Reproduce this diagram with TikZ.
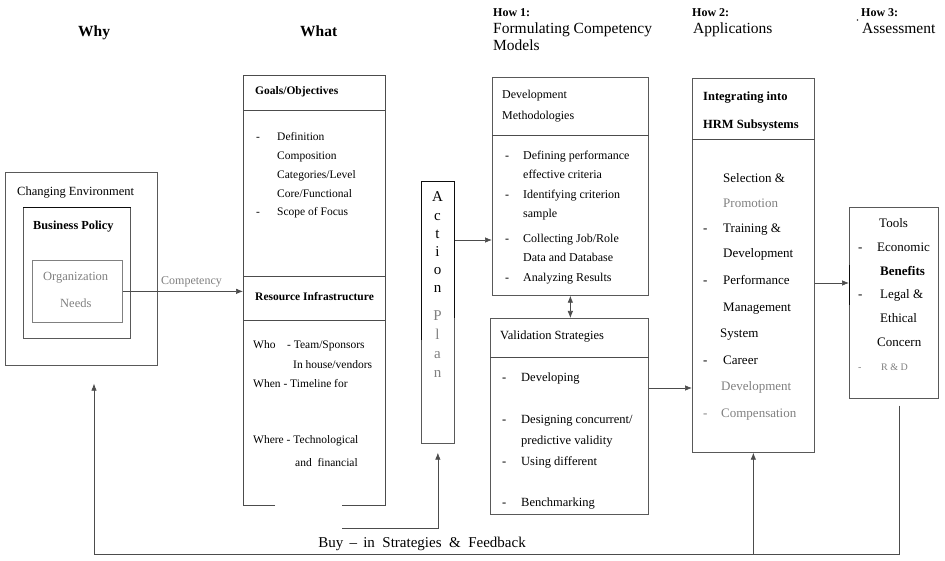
\documentclass[tikz,border=0pt]{standalone}
\usepackage{fontspec}
\setmainfont{Liberation Serif}
\usetikzlibrary{arrows.meta}
\begin{document}
\begin{tikzpicture}[x=1pt,y=-1pt,
 bx/.style={draw=black!65,line width=0.7pt,inner sep=0pt,anchor=north west},
 ln/.style={draw=black!70,line width=0.7pt},
 dk/.style={draw=black!95,line width=0.9pt},
 arr/.style={ln,-{Latex[length=7pt,width=5.5pt]}},
 t/.style={inner sep=0pt,anchor=mid west,font=\fontsize{11.5}{13}\selectfont},
 tb/.style={t,font=\fontsize{11.5}{13}\selectfont\bfseries},
 td/.style={t,font=\fontsize{12}{14}\selectfont},
 tv/.style={t,font=\fontsize{12.5}{14}\selectfont},
 ta/.style={t,font=\fontsize{13}{15}\selectfont},
 hd/.style={t,font=\fontsize{15.5}{18}\selectfont},
 hb/.style={t,font=\fontsize{15.5}{18}\selectfont\bfseries},
 hh/.style={t,font=\fontsize{12}{14}\selectfont\bfseries},
 gr/.style={text=black!50},
 ap/.style={inner sep=0pt,anchor=mid,font=\fontsize{15}{17}\selectfont}]
\useasboundingbox (0,0) rectangle (945,561);

% ---------- headers ----------
\node[hb] (hwhy) at (78,34) {Why};
\node[hb] (hwhat) at (300,34) {What};
\node[hh] (h1a) at (493,14) {How 1:};
\node[hd] (h1b) at (493,31) {Formulating Competency};
\node[hd] (h1c) at (493,48) {Models};
\node[hh] (h2a) at (692,14) {How 2:};
\node[hd] (h2b) at (693,31) {Applications};
\node[hh] (h3a) at (861,14) {How 3:};
\node[hd] (h3b) at (862,31) {Assessment};
\fill[black!80] (857.5,20) circle (0.9);

% ---------- why ----------
\node[bx,minimum width=152,minimum height=193] (env) at (5,172) {};
\node[bx,minimum width=107,minimum height=131] (policy) at (23,207) {};
\draw[dk] (policy.north west) -- (policy.north east);
\node[bx,draw=black!50,minimum width=90,minimum height=62] (needs) at (32,260) {};
\node[t,font=\fontsize{12.5}{14}\selectfont] (envt) at (17,193) {Changing Environment};
\node[t,font=\fontsize{12.3}{14}\selectfont\bfseries] (polt) at (33,227) {Business Policy};
\node[t,gr,font=\fontsize{12.5}{14}\selectfont] (needt1) at (43,278) {Organization};
\node[t,gr,font=\fontsize{12.5}{14}\selectfont] (needt2) at (60,305) {Needs};
\node[t,gr,font=\fontsize{12}{14}\selectfont] (compt) at (161,282) {Competency};

% ---------- what ----------
\node[anchor=north west,minimum width=142,minimum height=430,inner sep=0pt] (what) at (243,75) {};
\draw[ln] ([xshift=32pt]what.south west) -- (what.south west) -- (what.north west)
  -- (what.north east) -- (what.south east) -- ([xshift=-43pt]what.south east);
\draw[ln] (what.west |- 0,110) -- (what.east |- 0,110);
\draw[ln] (what.west |- 0,276) -- (what.east |- 0,276);
\draw[ln] (what.west |- 0,320) -- (what.east |- 0,320);
\node[tb] (goal) at (255,92) {Goals/Objectives};
\node[t] (wb1) at (256,138) {-};
\node[t] (wb2) at (256,213) {-};
\foreach \y/\s [count=\k] in {138/{Definition},157/{Composition},176/{Categories/Level},195/{Core/Functional},213/{Scope of Focus}}
  \node[t] (wg\k) at (277,\y) {\s};
\node[tb] (res) at (255,298) {Resource Infrastructure};
\node[t] (who1) at (253,346) {Who};
\node[t] (who2) at (287,346) {- Team/Sponsors};
\node[t] (who3) at (293,366) {In house/vendors};
\node[t] (when) at (253,385) {When - Timeline for};
\node[t] (where1) at (253,441) {Where - Technological};
\node[t] (where2) at (295,464) {and\ \ financial};

% ---------- action plan ----------
\node[bx,minimum width=33,minimum height=262] (action) at (421,181) {};
\draw[dk] (action.west |- 0,340) -- (action.north west) -- (action.north east) -- (action.east |- 0,318);
\foreach \y/\s [count=\k] in {199/A,218/c,236/t,254/i,272/o,290/n}
  \node[ap] (ac\k) at (437.5,\y) {\s};
\foreach \y/\s [count=\k] in {318/P,337/l,356/a,375/n}
  \node[ap,gr] (pl\k) at (437.5,\y) {\s};

% ---------- how 1 ----------
\node[bx,minimum width=156,minimum height=218] (dev) at (492,77) {};
\draw[ln] (dev.west |- 0,135) -- (dev.east |- 0,135);
\node[td] (devh1) at (502,96) {Development};
\node[td] (devh2) at (502,117) {Methodologies};
\foreach \y [count=\k] in {157,196,240,279}
  \node[td] (db\k) at (505,\y) {-};
\foreach \y/\s [count=\k] in {157/{Defining performance},176/{effective criteria},196/{Identifying criterion},215/{sample},240/{Collecting Job/Role},259/{Data and Database},279/{Analyzing Results}}
  \node[td] (dt\k) at (523,\y) {\s};

\node[bx,minimum width=158,minimum height=196] (valid) at (490,318) {};
\draw[ln] (valid.west |- 0,357) -- (valid.east |- 0,357);
\node[tv] (valh) at (500,337) {Validation Strategies};
\foreach \y [count=\k] in {379,421,463,504}
  \node[tv] (vb\k) at (502,\y) {-};
\foreach \y/\s [count=\k] in {379/{Developing},421/{Designing concurrent/},442/{predictive validity},463/{Using different},504/{Benchmarking}}
  \node[tv] (vt\k) at (521,\y) {\s};

% ---------- how 2 ----------
\node[bx,minimum width=122,minimum height=374] (app) at (692,78) {};
\draw[ln] (app.west |- 0,139) -- (app.east |- 0,139);
\node[ta,font=\fontsize{12.5}{14}\selectfont\bfseries] (apph1) at (703,98) {Integrating into};
\node[ta,font=\fontsize{12.5}{14}\selectfont\bfseries] (apph2) at (703,126) {HRM Subsystems};
\foreach \y [count=\k] in {230,282,362}
  \node[ta] (ab\k) at (703,\y) {-};
\node[ta,gr] (ab4) at (703,415) {-};
\foreach \y/\s [count=\k] in {180/{Selection \&},230/{Training \&},255/{Development},282/{Performance},309/{Management},362/{Career}}
  \node[ta] (at\k) at (723,\y) {\s};
\node[ta] (at7) at (720,335) {System};
\node[ta,gr] (at8) at (723,205) {Promotion};
\node[ta,gr] (at9) at (721,388) {Development};
\node[ta,gr] (at10) at (721,415) {Compensation};

% ---------- how 3 ----------
\node[bx,minimum width=89,minimum height=191] (assess) at (849,207) {};
\draw[dk] (assess.west |- 0,265) -- (assess.west |- 0,305);
\node[ta] (st1) at (879,225) {Tools};
\node[ta] (sb1) at (858,249) {-};
\node[ta] (st2) at (877,249) {Economic};
\node[ta,font=\fontsize{13}{15}\selectfont\bfseries] (st3) at (880,273) {Benefits};
\node[ta] (sb2) at (858,296) {-};
\node[ta] (st4) at (880,296) {Legal \&};
\node[ta] (st5) at (880,320) {Ethical};
\node[ta] (st6) at (877,344) {Concern};
\node[t,gr,font=\fontsize{10}{12}\selectfont] (sb3) at (858,368) {-};
\node[t,gr,font=\fontsize{10}{12}\selectfont] (st7) at (881,368) {R \& D};

% ---------- connectors ----------
\draw[arr] (needs.east) -- (needs.east -| what.west);
\coordinate (a2d) at (0,240);
\draw[arr] (action.east |- a2d) -- (dev.west |- a2d);
\draw[ln,{Latex[length=7pt,width=5.5pt]}-{Latex[length=7pt,width=5.5pt]}] (dev.south) -- (dev.south |- valid.north);
\coordinate (v2a) at (0,388);
\draw[arr] (valid.east |- v2a) -- (app.west |- v2a);
\coordinate (a2s) at (0,283);
\draw[arr] (app.east |- a2s) -- (assess.west |- a2s);

\coordinate (fbR) at (899,554);
\coordinate (fbL) at (94,554);
\draw[ln] ([yshift=-7pt]assess.south -| fbR) -- (fbR) -- (fbL);
\draw[arr,shorten >=18pt] (fbL) -- (env.south -| fbL);
\draw[arr] (app.south |- fbR) -- (app.south);
\coordinate (bi) at (342,528);
\draw[arr,shorten >=9pt] (bi) -- (bi -| action.south) -- (action.south);
\node[inner sep=0pt,anchor=mid,font=\fontsize{15}{17}\selectfont] (buy) at (422,545) {Buy \,--\, in\ \ Strategies\ \ \&\ \ Feedback};
\end{tikzpicture}
\end{document}
